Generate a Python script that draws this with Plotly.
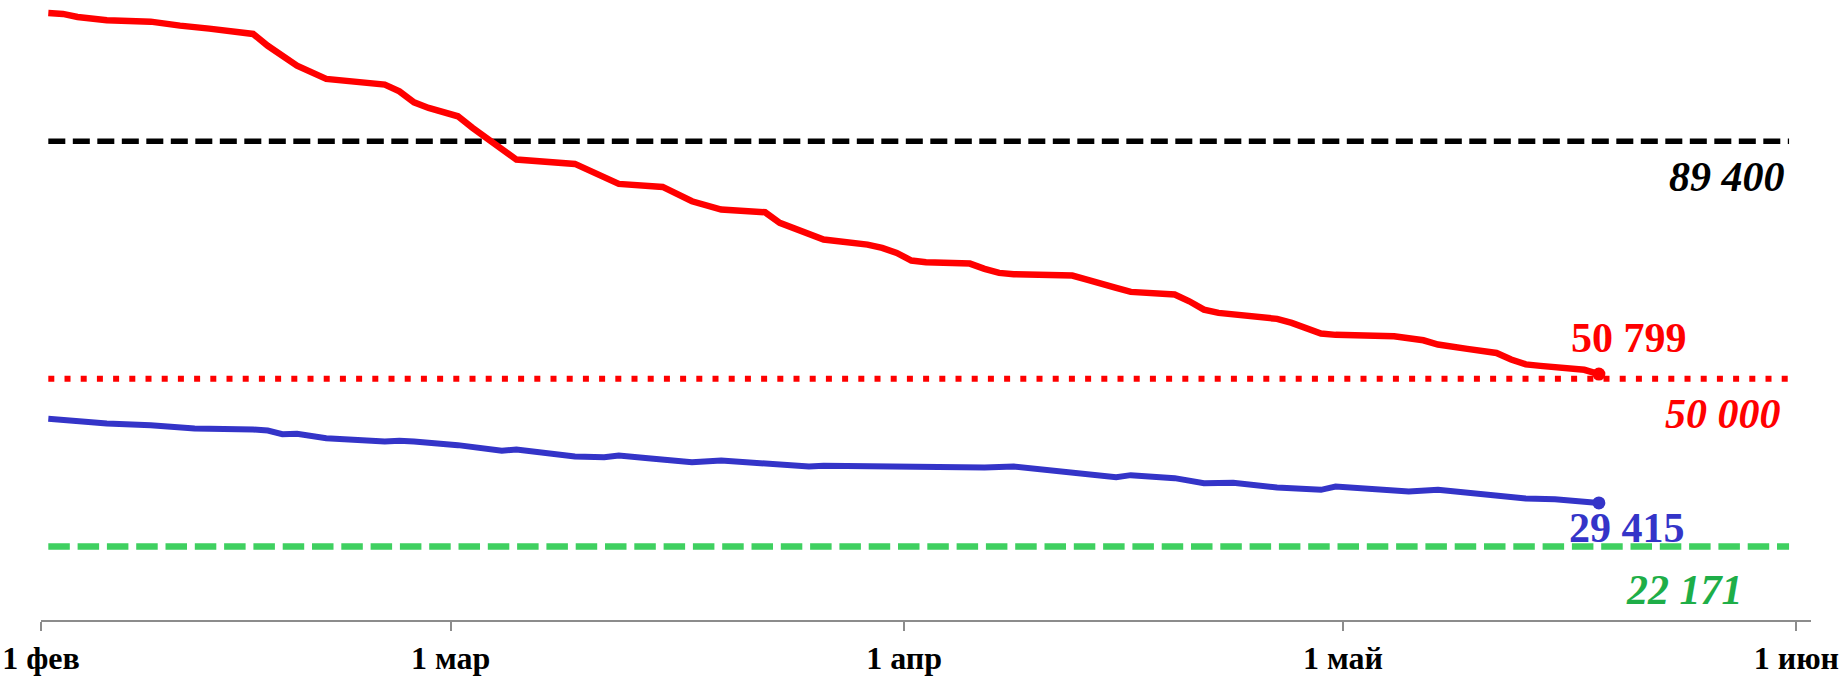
import plotly.graph_objects as go
import pandas as pd

# ---------------- data ----------------
base_date = "2023-02-01"

red_days = [0, 1, 2, 4, 7, 8, 9, 11, 14, 15, 16, 17, 19, 23, 24, 25, 26, 28, 29, 31, 32,
            36, 37, 38, 39, 42, 44, 46, 48, 49, 50, 51, 52, 53, 56, 57, 58, 59, 60, 63,
            64, 65, 66, 70, 71, 72, 73, 74, 77, 78, 79, 80, 82, 84, 85, 86, 87, 88, 92,
            94, 95, 97, 99, 100, 101, 102, 105, 106]
red_values = [110694, 110528, 110030, 109466, 109251, 109035, 108587, 108090, 107211,
              105240, 103450, 101954, 99748, 98803, 97692, 95868, 94939, 93546, 91622,
              88024, 86365, 85652, 84591, 83330, 82335, 81838, 79450, 78073, 77692, 77626,
              75868, 74922, 74209, 73098, 72269, 71722, 70893, 69616, 69334, 69118, 68239,
              67576, 67344, 67128, 66465, 65917, 65100, 64425, 63977, 62866, 61490, 60942,
              60495, 59947, 59284, 58339, 57509, 57294, 57062, 56398, 55685, 54972, 54300,
              53200, 52400, 52150, 51500, 50799]

blue_days = [0, 1, 2, 3, 4, 7, 9, 10, 14, 15, 16, 17, 19, 23, 24, 25, 28, 30, 31, 32, 36,
             38, 39, 41, 43, 44, 46, 48, 52, 53, 57, 58, 59, 63, 64, 66, 67, 68, 72, 73,
             74, 77, 79, 81, 84, 87, 88, 93, 95, 101, 103, 106]
blue_values = [43365, 43200, 42818, 42818, 42586, 42320, 41823, 41757, 41591, 41425, 40828,
               40877, 40164, 39600, 39716, 39600, 39003, 38224, 38058, 38273, 37112, 37013,
               37300, 36847, 36400, 36150, 36449, 36117, 35454, 35570, 35454, 35619, 35354,
               35454, 35288, 35450, 35188, 35022, 33911, 33695, 34027, 33530, 32700, 32750,
               31970, 31589, 32136, 31307, 31589, 30146, 30046, 29415]

ref_days = [0, 119]
level_black = 89400
level_red = 50000
level_green = 22171

label_black = "89 400"
label_red_level = "50 000"
label_green = "22 171"
label_red_last = "50 799"
label_blue_last = "29 415"

tick_dates = ["2023-02-01", "2023-03-01", "2023-04-01", "2023-05-01", "2023-06-01"]
tick_labels = ["1 фев", "1 мар", "1 апр", "1 май", "1 июн"]

# ---------------- helpers ----------------
def to_x(days):
    b = pd.Timestamp(base_date)
    return [b + pd.Timedelta(days=d, hours=12) for d in days]

RED = "#ff0000"
BLUE = "#3434c8"
GREEN_LINE = "#3fd060"
GREEN_TEXT = "#1eae48"
FONT = "Liberation Serif"

fig = go.Figure()

# reference levels
fig.add_trace(go.Scatter(x=to_x(ref_days), y=[level_black] * 2, mode="lines",
                         line=dict(color="black", width=5.5, dash="17px,7.5px"),
                         hoverinfo="skip"))
fig.add_trace(go.Scatter(x=to_x(ref_days), y=[level_red] * 2, mode="lines",
                         line=dict(color=RED, width=6, dash="6px,10.2px"),
                         hoverinfo="skip"))
fig.add_trace(go.Scatter(x=to_x(ref_days), y=[level_green] * 2, mode="lines",
                         line=dict(color=GREEN_LINE, width=6.5, dash="21.5px,7.8px"),
                         hoverinfo="skip"))

# series
fig.add_trace(go.Scatter(x=to_x(red_days), y=red_values, mode="lines",
                         line=dict(color=RED, width=6.5)))
fig.add_trace(go.Scatter(x=to_x(blue_days), y=blue_values, mode="lines",
                         line=dict(color=BLUE, width=6)))

# end markers
fig.add_trace(go.Scatter(x=to_x(red_days[-1:]), y=red_values[-1:], mode="markers",
                         marker=dict(color=RED, size=13)))
fig.add_trace(go.Scatter(x=to_x(blue_days[-1:]), y=blue_values[-1:], mode="markers",
                         marker=dict(color=BLUE, size=13)))

end_x = to_x(ref_days[-1:])[0]
ann = []
def add_ann(x, y, text, color, xanchor, xshift, yshift, italic):
    t = f"<b><i>{text}</i></b>" if italic else f"<b>{text}</b>"
    ann.append(dict(x=x, y=y, text=t, showarrow=False, xanchor=xanchor, yanchor="middle",
                    xshift=xshift, yshift=yshift,
                    font=dict(family=FONT, size=42, color=color)))

add_ann(end_x, level_black, label_black, "black", "right", -2, -36, True)
add_ann(end_x, level_red, label_red_level, RED, "right", -6, -35, True)
add_ann(end_x, level_green, label_green, GREEN_TEXT, "right", -44, -43, True)
add_ann(to_x(red_days[-1:])[0], red_values[-1], label_red_last, RED, "center", 30, 36, False)
add_ann(to_x(blue_days[-1:])[0], blue_values[-1], label_blue_last, BLUE, "center", 28, -25, False)

fig.update_layout(
    width=1847, height=676,
    margin=dict(l=41, r=36, t=0, b=56, pad=0),
    paper_bgcolor="white", plot_bgcolor="white",
    showlegend=False,
    annotations=ann,
    xaxis=dict(type="date", range=["2023-02-01", "2023-06-02"],
               tickvals=tick_dates, ticktext=tick_labels,
               ticks="outside", ticklen=9, tickwidth=1.5, tickcolor="#8c8c8c",
               showline=True, linecolor="#8c8c8c", linewidth=1.5,
               showgrid=False, zeroline=False,
               tickfont=dict(family=FONT, size=32, color="black", weight="bold")),
    yaxis=dict(range=[10000, 112838], visible=False, showgrid=False, zeroline=False),
)

fig.write_html("out.html", config={"displayModeBar": False},
               post_script="document.body.style.margin='0';document.body.style.overflow='hidden';")
